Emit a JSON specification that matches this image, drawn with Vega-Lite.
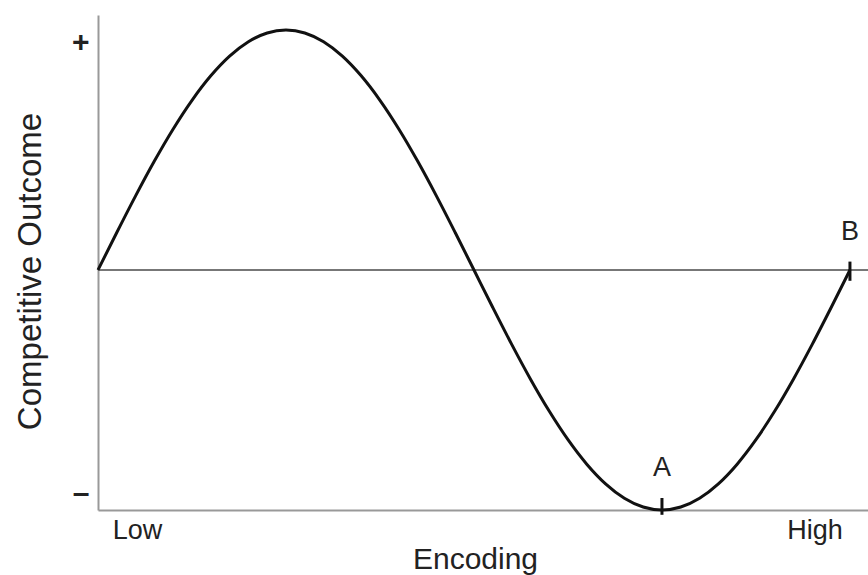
{
  "$schema": "https://vega.github.io/schema/vega-lite/v6.json",
  "width": 770,
  "height": 495,
  "autosize": {"type": "none"},
  "padding": {"left": 98, "top": 15, "right": 0, "bottom": 65},
  "background": "white",
  "config": {
    "view": {"stroke": null},
    "font": "Liberation Sans",
    "axis": {"grid": false}
  },
  "datasets": {
    "curve": [
      {"x": 0.000, "y": 0.0000},
      {"x": 0.025, "y": 0.1564},
      {"x": 0.050, "y": 0.3090},
      {"x": 0.075, "y": 0.4540},
      {"x": 0.100, "y": 0.5878},
      {"x": 0.125, "y": 0.7071},
      {"x": 0.150, "y": 0.8090},
      {"x": 0.175, "y": 0.8910},
      {"x": 0.200, "y": 0.9511},
      {"x": 0.225, "y": 0.9877},
      {"x": 0.250, "y": 1.0000},
      {"x": 0.275, "y": 0.9877},
      {"x": 0.300, "y": 0.9511},
      {"x": 0.325, "y": 0.8910},
      {"x": 0.350, "y": 0.8090},
      {"x": 0.375, "y": 0.7071},
      {"x": 0.400, "y": 0.5878},
      {"x": 0.425, "y": 0.4540},
      {"x": 0.450, "y": 0.3090},
      {"x": 0.475, "y": 0.1564},
      {"x": 0.500, "y": 0.0000},
      {"x": 0.525, "y": -0.1564},
      {"x": 0.550, "y": -0.3090},
      {"x": 0.575, "y": -0.4540},
      {"x": 0.600, "y": -0.5878},
      {"x": 0.625, "y": -0.7071},
      {"x": 0.650, "y": -0.8090},
      {"x": 0.675, "y": -0.8910},
      {"x": 0.700, "y": -0.9511},
      {"x": 0.725, "y": -0.9877},
      {"x": 0.750, "y": -1.0000},
      {"x": 0.775, "y": -0.9877},
      {"x": 0.800, "y": -0.9511},
      {"x": 0.825, "y": -0.8910},
      {"x": 0.850, "y": -0.8090},
      {"x": 0.875, "y": -0.7071},
      {"x": 0.900, "y": -0.5878},
      {"x": 0.925, "y": -0.4540},
      {"x": 0.950, "y": -0.3090},
      {"x": 0.975, "y": -0.1564},
      {"x": 1.000, "y": 0.0000}
    ],
    "marks": [
      {"label": "A", "x": 0.75, "y1": -1.02, "y2": -0.95, "ly": -0.825},
      {"label": "B", "x": 1.0, "y1": -0.045, "y2": 0.035, "ly": 0.16}
    ]
  },
  "layer": [
    {
      "data": {"values": [{"v": 0}]},
      "mark": {"type": "rule", "color": "#777777", "strokeWidth": 2},
      "encoding": {
        "y": {"field": "v", "type": "quantitative", "scale": {"domain": [-1, 1.0625]}}
      }
    },
    {
      "data": {"name": "curve"},
      "mark": {"type": "line", "color": "#111111", "strokeWidth": 3, "interpolate": "monotone", "clip": false},
      "encoding": {
        "x": {
          "field": "x", "type": "quantitative",
          "scale": {"domain": [0, 1.024], "nice": false, "zero": false},
          "axis": {
            "values": [0.052, 0.953],
            "labelExpr": "datum.value < 0.5 ? 'Low' : 'High'",
            "ticks": false,
            "labelPadding": 7,
            "labelFontSize": 27,
            "labelColor": "#222222",
            "labelFlush": false,
            "domainColor": "#999999",
            "domainWidth": 2,
            "title": "Encoding",
            "titleFontSize": 30,
            "titleFontWeight": "normal",
            "titleColor": "#222222",
            "titlePadding": 1,
            "titleX": 377
          }
        },
        "y": {
          "field": "y", "type": "quantitative",
          "scale": {"domain": [-1, 1.0625], "nice": false, "zero": false},
          "axis": {
            "values": [0.95, -0.93],
            "labelExpr": "datum.value > 0 ? '+' : '–'",
            "ticks": false,
            "labelPadding": 9,
            "labelFontSize": 30,
            "labelFontWeight": "bold",
            "labelColor": "#222222",
            "labelFlush": false,
            "domainColor": "#999999",
            "domainWidth": 2,
            "title": "Competitive Outcome",
            "titleFontSize": 33,
            "titleFontWeight": "normal",
            "titleColor": "#222222",
            "titlePadding": 24,
            "titleY": 256
          }
        }
      }
    },
    {
      "data": {"name": "marks"},
      "mark": {"type": "rule", "color": "#111111", "strokeWidth": 3, "clip": false},
      "encoding": {
        "x": {"field": "x", "type": "quantitative"},
        "y": {"field": "y1", "type": "quantitative"},
        "y2": {"field": "y2"}
      }
    },
    {
      "data": {"name": "marks"},
      "mark": {"type": "text", "fontSize": 27, "color": "#222222", "baseline": "middle", "align": "center"},
      "encoding": {
        "x": {"field": "x", "type": "quantitative"},
        "y": {"field": "ly", "type": "quantitative"},
        "text": {"field": "label"}
      }
    }
  ]
}
